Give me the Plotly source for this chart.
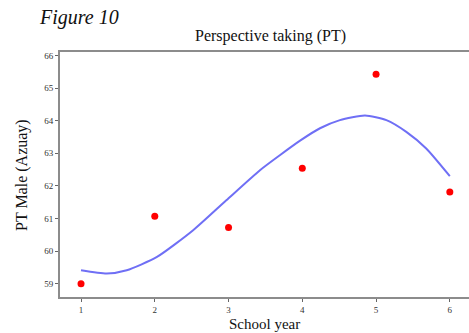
import plotly.graph_objects as go

school_year = [1, 2, 3, 4, 5, 6]
pt_male = [59.0, 61.07, 60.72, 62.54, 65.43, 61.81]

fit_x = [1.0, 1.35, 1.62, 2.03, 2.52, 2.97, 3.43, 3.70, 3.97, 4.24, 4.51, 4.85, 5.14, 5.41, 5.68, 6.0]
fit_y = [59.41, 59.31, 59.41, 59.82, 60.64, 61.56, 62.49, 62.95, 63.39, 63.77, 64.02, 64.16, 64.02, 63.66, 63.15, 62.30]

x_ticks = [1, 2, 3, 4, 5, 6]
y_ticks = [59, 60, 61, 62, 63, 64, 65, 66]

serif = "Liberation Serif, DejaVu Serif, serif"

W, H = 469, 333
ML, MR, MT, MB = 60, 0, 52, 36
plot_w = W - ML - MR
plot_h = H - MT - MB


def px_to_paper(px, py):
    return (px - ML) / plot_w, (H - MB - py) / plot_h


fig = go.Figure()
fig.add_trace(go.Scatter(x=fit_x, y=fit_y, mode="lines",
                         line=dict(color="#6f6ff5", width=2, shape="spline", smoothing=0.6),
                         hoverinfo="skip", showlegend=False))
fig.add_trace(go.Scatter(x=school_year, y=pt_male, mode="markers",
                         marker=dict(color="#ff0000", size=7), showlegend=False))

ax, ay = px_to_paper(37, 17)
ttx, tty = px_to_paper(270, 36)
xtx, xty = px_to_paper(264, 324)
ytx, yty = px_to_paper(22, 175)

annotations = [
    dict(text="<i>Figure 10</i>", x=ax, y=ay, xref="paper", yref="paper",
         xanchor="left", yanchor="middle", showarrow=False,
         font=dict(size=20, family=serif, color="#111")),
    dict(text="Perspective taking (PT)", x=ttx, y=tty, xref="paper", yref="paper",
         xanchor="center", yanchor="middle", showarrow=False,
         font=dict(size=16, family=serif, color="#111")),
    dict(text="School year", x=xtx, y=xty, xref="paper", yref="paper",
         xanchor="center", yanchor="middle", showarrow=False,
         font=dict(size=15, family=serif, color="#111")),
    dict(text="PT Male (Azuay)", x=ytx, y=yty, xref="paper", yref="paper",
         xanchor="center", yanchor="middle", showarrow=False, textangle=-90,
         font=dict(size=16, family=serif, color="#111")),
]

fig.update_layout(
    width=W, height=H,
    margin=dict(l=ML, r=MR, t=MT, b=MB),
    paper_bgcolor="white", plot_bgcolor="white",
    showlegend=False,
    font=dict(family=serif, color="#111"),
    annotations=annotations,
)

fig.update_xaxes(range=[0.715, 6.26], tickvals=x_ticks, ticktext=[str(v) for v in x_ticks],
                 showline=True, linecolor="#8c8c8c", linewidth=2, mirror=True,
                 ticks="outside", ticklen=3, tickcolor="#666", tickwidth=1,
                 showgrid=False, zeroline=False,
                 tickfont=dict(size=9, family=serif, color="#333"))
fig.update_yaxes(range=[58.59, 66.11], tickvals=y_ticks, ticktext=[str(v) for v in y_ticks],
                 showline=True, linecolor="#8c8c8c", linewidth=2,
                 ticks="outside", ticklen=3, tickcolor="#666", tickwidth=1,
                 showgrid=False, zeroline=False,
                 tickfont=dict(size=9, family=serif, color="#333"))

fig.write_html("out.html", config={"displayModeBar": False})
